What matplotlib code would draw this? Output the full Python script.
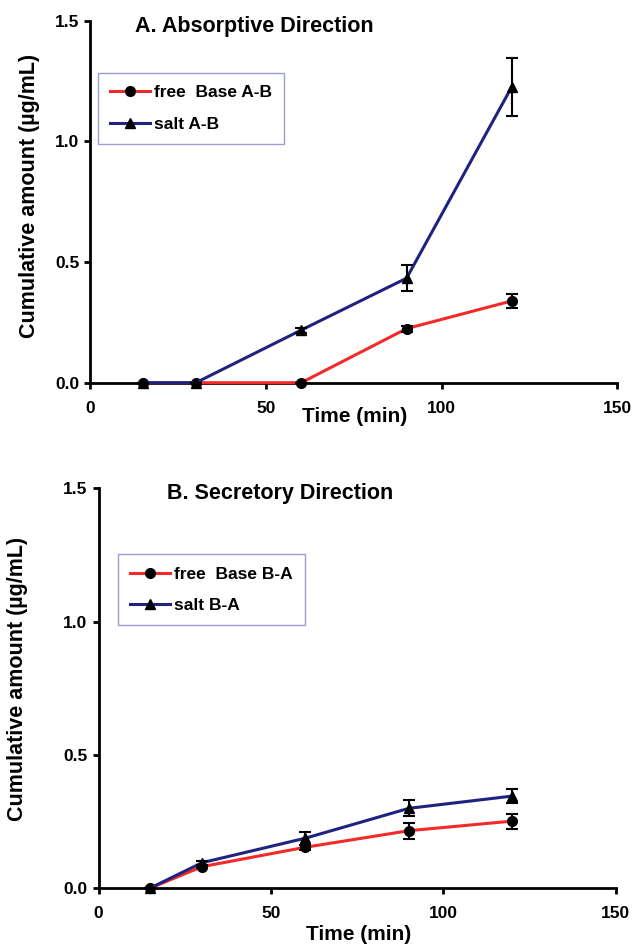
import matplotlib
matplotlib.use("Agg")
import matplotlib.pyplot as plt

plt.rcParams['font.family'] = ['Liberation Sans', 'DejaVu Sans']
plt.rcParams['font.weight'] = 'bold'

time_min = [15, 30, 60, 90, 120]

# panel A, absorptive
free_ab = [0.0, 0.0, 0.0, 0.224, 0.339]
free_ab_err = [0.0, 0.0, 0.0, 0.012, 0.030]
salt_ab = [0.0, 0.0, 0.218, 0.433, 1.227]
salt_ab_err = [0.0, 0.0, 0.010, 0.053, 0.120]

# panel B, secretory
free_ba = [0.0, 0.080, 0.153, 0.215, 0.251]
free_ba_err = [0.0, 0.005, 0.010, 0.030, 0.028]
salt_ba = [0.0, 0.095, 0.187, 0.299, 0.345]
salt_ba_err = [0.0, 0.008, 0.025, 0.030, 0.025]

red = '#f42a2a'
navy = '#1f237f'

fig = plt.figure(figsize=(6.35, 9.48), dpi=100)
axA = fig.add_axes([0.1425, 0.5963, 0.8296, 0.3819])
axB = fig.add_axes([0.1554, 0.0633, 0.8142, 0.4216])


def draw_panel(ax, free, free_err, salt, salt_err, labels, title, title_xy, ylab_xy, xlab_y, leg_xy):
    ax.errorbar(time_min, free, yerr=free_err, fmt='none', ecolor='black', elinewidth=1.5,
                capsize=4.5, capthick=1.5, zorder=5, clip_on=False)
    ax.errorbar(time_min, salt, yerr=salt_err, fmt='none', ecolor='black', elinewidth=1.5,
                capsize=4.5, capthick=1.5, zorder=5, clip_on=False)
    ax.plot(time_min, free, color=red, lw=2.2, marker='o', ms=7, mfc='black', mec='black',
            label=labels[0], zorder=3, clip_on=False)
    ax.plot(time_min, salt, color=navy, lw=2.2, marker='^', ms=7.5, mfc='black', mec='black',
            label=labels[1], zorder=4, clip_on=False)
    ax.set_xlim(0, 150)
    ax.set_ylim(0, 1.5)
    ax.set_xticks([0, 50, 100, 150])
    ax.set_yticks([0.0, 0.5, 1.0, 1.5])
    ax.set_yticklabels(['0.0', '0.5', '1.0', '1.5'])
    for s in ['top', 'right']:
        ax.spines[s].set_visible(False)
    for s in ['left', 'bottom']:
        ax.spines[s].set_linewidth(2.0)
    ax.tick_params(axis='both', width=2.0, length=4, labelsize=12.5)
    ax.tick_params(axis='x', pad=9)
    ax.tick_params(axis='y', pad=4)
    ax.set_xlabel('Time (min)', fontsize=15, fontweight='bold')
    ax.xaxis.set_label_coords(0.502, xlab_y)
    ax.set_ylabel('Cumulative amount (µg/mL)', fontsize=15.5, fontweight='bold')
    ax.yaxis.set_label_coords(*ylab_xy)
    ax.text(title_xy[0], title_xy[1], title, transform=ax.transAxes, fontsize=15.5,
            fontweight='bold', va='center', ha='left')
    leg = ax.legend(loc='upper left', bbox_to_anchor=leg_xy, bbox_transform=fig.transFigure,
                    fontsize=12.5, frameon=True, fancybox=False, borderpad=0.7,
                    handlelength=2.3, handletextpad=0.2, labelspacing=0.95,
                    borderaxespad=0)
    leg.get_frame().set_edgecolor('#8585c8')
    leg.get_frame().set_linewidth(1.0)


draw_panel(axA, free_ab, free_ab_err, salt_ab, salt_ab_err,
           ['free  Base A-B', 'salt A-B'], 'A. Absorptive Direction',
           (0.0845, 0.985), (-0.096, 0.516), -0.068, (98.3 / 635, 1 - 72.7 / 948))
draw_panel(axB, free_ba, free_ba_err, salt_ba, salt_ba_err,
           ['free  Base B-A', 'salt B-A'], 'B. Secretory Direction',
           (0.132, 0.988), (-0.137, 0.524), -0.092, (118.3 / 635, 1 - 554.3 / 948))

fig.savefig('out.png', dpi=100)
